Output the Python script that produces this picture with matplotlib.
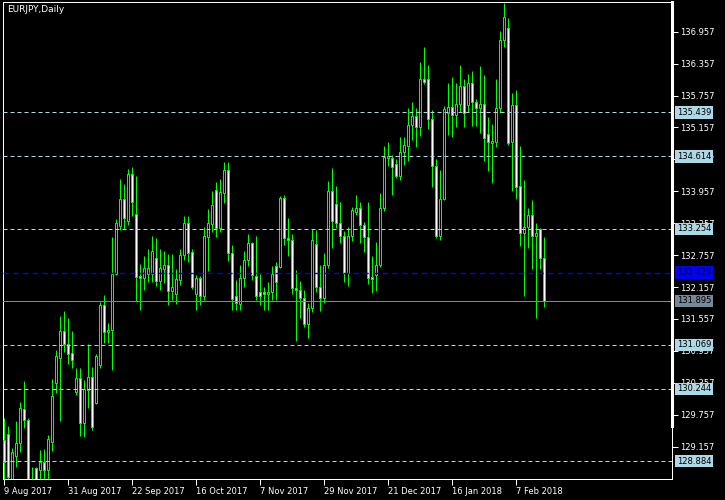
import matplotlib
matplotlib.use('Agg')
import matplotlib.pyplot as plt
from matplotlib.lines import Line2D

# EURJPY daily bars, 9 Aug 2017 .. 16 Feb 2018
opens = [129.28, 129.40, 128.38, 128.99, 129.22, 129.86, 129.65, 128.30, 128.76, 128.72,
         128.86, 128.72, 129.25, 130.36, 130.82, 131.33, 131.08, 130.91, 130.18, 130.44,
         129.60, 130.23, 130.47, 129.97, 130.69, 131.82, 131.31, 131.35, 132.40, 133.31,
         133.82, 133.40, 134.28, 133.53, 132.37, 132.33, 132.40, 132.40, 132.70, 132.28,
         132.50, 132.58, 132.09, 132.03, 132.29, 132.76, 133.37, 132.81, 132.03, 132.32,
         131.99, 133.10, 133.34, 133.98, 133.27, 133.93, 134.36, 132.79, 131.99, 131.84,
         132.32, 132.67, 132.98, 132.36, 132.07, 132.07, 132.02, 132.07, 132.55, 132.54,
         133.84, 133.07, 133.05, 132.13, 132.11, 131.96, 131.47, 131.76, 132.96, 132.16,
         131.95, 132.57, 133.96, 133.71, 133.36, 133.12, 132.43, 133.12, 133.57, 133.64,
         133.32, 133.09, 132.35, 132.38, 132.58, 133.64, 134.58, 134.58, 134.47, 134.25,
         134.70, 134.81, 135.20, 135.37, 135.16, 136.06, 136.06, 135.31, 134.43, 133.12,
         133.82, 135.43, 135.54, 135.39, 135.59, 135.94, 135.58, 135.99, 135.64, 135.52,
         135.59, 135.03, 134.87, 134.89, 135.52, 136.81, 137.02, 134.89, 135.58, 134.05,
         133.17, 133.29, 133.52, 133.12, 133.25, 132.70]
highs = [129.70, 129.55, 129.14, 129.64, 130.00, 130.40, 129.70, 128.77, 128.77, 129.09,
         129.11, 129.38, 130.43, 130.97, 131.61, 131.71, 131.58, 131.33, 130.64, 130.64,
         130.41, 131.09, 130.66, 130.90, 131.88, 132.01, 131.48, 133.09, 133.43, 134.19,
         134.09, 134.37, 134.41, 134.24, 132.59, 132.74, 132.88, 133.12, 133.07, 132.88,
         132.84, 132.78, 132.78, 132.49, 132.87, 133.49, 133.49, 132.88, 132.38, 132.37,
         133.28, 133.62, 133.96, 134.14, 134.19, 134.51, 134.51, 132.95, 132.29, 132.57,
         132.84, 133.16, 133.01, 133.12, 132.41, 132.16, 132.26, 132.55, 132.63, 133.87,
         133.89, 133.45, 133.16, 132.48, 132.27, 132.10, 131.85, 133.25, 133.23, 132.57,
         132.79, 134.15, 134.40, 134.06, 133.76, 133.21, 133.28, 133.67, 133.89, 133.76,
         133.38, 133.76, 132.74, 133.01, 133.93, 134.80, 134.89, 134.64, 134.56, 134.98,
         134.98, 135.53, 135.63, 135.53, 136.39, 136.66, 136.33, 135.49, 134.56, 134.36,
         135.56, 136.00, 136.10, 136.00, 136.33, 136.07, 136.16, 136.22, 135.69, 136.31,
         136.14, 135.35, 135.22, 136.07, 136.97, 137.50, 137.21, 135.81, 135.86, 134.81,
         134.17, 133.64, 133.79, 133.37, 133.27, 133.09]
lows = [128.44, 128.34, 128.30, 128.78, 129.05, 129.50, 128.25, 128.25, 128.34, 128.44,
        128.49, 128.44, 129.08, 130.17, 129.63, 130.94, 130.72, 130.64, 130.13, 129.36,
        129.34, 129.89, 129.47, 129.96, 130.63, 131.10, 131.10, 130.60, 132.38, 133.23,
        133.25, 133.32, 133.49, 131.90, 131.73, 132.10, 132.26, 132.26, 132.18, 132.10,
        132.24, 131.82, 131.91, 131.84, 132.20, 132.67, 132.63, 132.12, 131.73, 131.82,
        131.91, 132.46, 133.19, 133.09, 133.19, 133.74, 132.65, 131.73, 131.73, 131.73,
        132.16, 132.56, 132.29, 131.91, 131.82, 131.73, 131.73, 131.91, 131.91, 132.51,
        132.95, 132.74, 132.03, 131.15, 131.57, 131.41, 131.20, 131.69, 132.07, 131.71,
        131.86, 132.51, 132.90, 133.26, 132.99, 132.26, 132.18, 133.03, 133.51, 132.99,
        132.82, 132.21, 132.05, 132.09, 132.54, 133.59, 134.44, 133.89, 134.20, 134.16,
        134.45, 134.53, 134.92, 134.79, 135.00, 135.97, 135.12, 134.04, 133.07, 133.04,
        133.79, 135.02, 134.97, 135.16, 135.45, 135.17, 135.45, 135.19, 135.18, 135.06,
        134.53, 134.33, 134.12, 134.79, 135.42, 136.66, 134.83, 133.97, 133.81, 132.93,
        131.98, 132.90, 132.50, 131.58, 132.50, 131.79]
closes = [128.87, 128.58, 129.05, 129.22, 129.88, 129.66, 128.34, 128.44, 128.44, 128.86,
          128.72, 129.30, 130.11, 130.86, 131.33, 131.08, 130.90, 130.79, 130.44, 129.60,
          130.24, 130.47, 129.53, 130.86, 131.82, 131.31, 131.35, 132.40, 133.36, 133.82,
          133.45, 134.28, 133.76, 132.35, 132.33, 132.51, 132.51, 132.84, 132.28, 132.51,
          132.58, 132.09, 132.15, 132.30, 132.76, 133.37, 132.79, 132.16, 132.32, 131.99,
          133.12, 133.36, 133.70, 133.26, 133.94, 134.36, 132.79, 131.93, 131.85, 132.32,
          132.67, 132.98, 132.38, 131.99, 131.99, 132.02, 132.07, 132.40, 132.25, 133.84,
          133.07, 133.04, 132.13, 132.10, 131.96, 131.47, 131.76, 133.04, 132.16, 131.95,
          132.57, 133.96, 133.40, 133.36, 133.12, 132.43, 133.12, 133.61, 133.64, 133.32,
          133.09, 132.33, 132.30, 132.58, 133.64, 134.61, 134.62, 134.41, 134.25, 134.70,
          134.83, 135.20, 135.37, 135.16, 136.06, 136.02, 135.31, 134.43, 133.12, 133.82,
          135.50, 135.54, 135.39, 135.59, 135.94, 135.42, 135.99, 135.64, 135.52, 135.59,
          134.95, 134.88, 134.90, 135.52, 136.81, 137.23, 134.87, 135.58, 134.03, 133.17,
          133.29, 133.52, 133.12, 133.18, 132.70, 131.895]

date_labels = ['9 Aug 2017', '31 Aug 2017', '22 Sep 2017', '16 Oct 2017', '7 Nov 2017',
               '29 Nov 2017', '21 Dec 2017', '16 Jan 2018', '7 Feb 2018']
date_bars = [0, 16, 32, 48, 64, 80, 96, 112, 128]

price_ticks = [136.957, 136.357, 135.757, 135.157, 134.557, 133.957, 133.357,
               132.757, 132.157, 131.557, 130.957, 130.357, 129.757, 129.157]
levels = [135.439, 134.614, 133.254, 131.069, 130.244, 128.884]
blue_level = 132.429
last_price = 131.895

GREEN = '#00ff00'
LIGHTBLUE = '#add8e6'
px = 0.72  # one pixel in points

fig = plt.figure(figsize=(7.25, 5), dpi=100, facecolor='black')
ax = fig.add_axes([3 / 725, 21 / 500, 669 / 725, 477 / 500], facecolor='black')

x = list(range(len(opens)))
ax.vlines(x, lows, highs, color=GREEN, lw=px, zorder=2)
for i in x:
    o, c = opens[i], closes[i]
    face = 'white' if c < o else 'black'
    ax.bar(i, max(abs(c - o), 0.005), bottom=min(o, c), width=0.5,
           color=face, edgecolor=GREEN, linewidth=px, zorder=3)

for lv in levels:
    ax.axhline(lv, color=LIGHTBLUE, lw=px, dashes=(4, 3), zorder=4)
ax.axhline(blue_level, color='#0000ff', lw=1.0, dashes=(4, 3), zorder=4)
ax.axhline(last_price, color='#778899', lw=px, zorder=4)

# 4 px per bar, bar centres on pixel centres
ax.set_xlim(-0.125, 167.125)
ax.set_ylim(128.549, 137.515)

ax.yaxis.tick_right()
ax.set_yticks(price_ticks)
ax.set_yticklabels(['%.3f' % t for t in price_ticks])
ax.tick_params(axis='y', colors='white', length=4, width=px, pad=2, labelsize=6)
ax.set_xticks(date_bars)
ax.set_xticklabels(date_labels, ha='left')
ax.tick_params(axis='x', colors='white', length=4, width=px, pad=2, labelsize=6)

for s in ax.spines.values():
    s.set_color('white')
    s.set_linewidth(px)
# thick part of the price-scale border
ax.add_line(Line2D([1, 1], [53 / 477, 1], transform=ax.transAxes, color='white',
                   lw=2.2, clip_on=False, zorder=5))

def price_label(p, fc, tc):
    ax.annotate('%.3f' % p, xy=(1, p), xycoords=ax.get_yaxis_transform(),
                xytext=(5, 0), textcoords='offset pixels', ha='left', va='center',
                fontsize=6, color=tc, zorder=6, annotation_clip=False,
                bbox=dict(boxstyle='square,pad=0.2', fc=fc, ec='none'))

for lv in levels:
    price_label(lv, LIGHTBLUE, 'black')
price_label(blue_level, '#0000ff', '#00004d')
price_label(last_price, '#778899', 'black')

fig.text(7 / 725, 1 - 5 / 500, 'EURJPY,Daily', color='white', fontsize=6.5,
         ha='left', va='top')

fig.savefig('out.png', dpi=100, facecolor='black')
